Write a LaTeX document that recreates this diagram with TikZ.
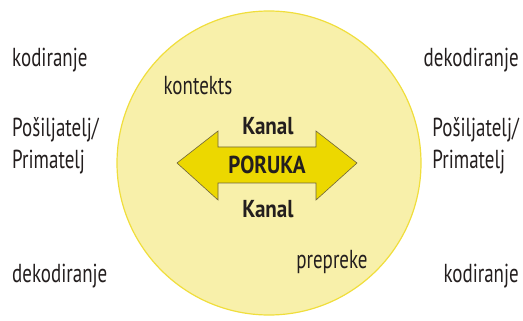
\documentclass[tikz,border=0pt]{standalone}
\usepackage{fontspec}
\setmainfont[FakeStretch=0.73,BoldFeatures={FakeStretch=0.86}]{PT Sans}
\definecolor{circfill}{RGB}{248,240,170}
\definecolor{circline}{RGB}{240,222,60}
\definecolor{arrfill}{RGB}{236,216,0}
\definecolor{arrline}{RGB}{110,100,60}
\definecolor{txt}{RGB}{35,30,30}
\begin{document}
\begin{tikzpicture}[x=1pt,y=-1pt,
  lbl/.style={inner sep=0pt,text=txt,font=\fontsize{26}{32}\selectfont},
  blbl/.style={inner sep=0pt,text=txt,font=\fontsize{24.5}{28}\selectfont\bfseries}]
\useasboundingbox (0,0) rectangle (523,321);
\node[circle,draw=circline,line width=1.2pt,fill=circfill,minimum size=304pt,inner sep=0pt] (c) at (269,163) {};
\draw[fill=arrfill,draw=arrline,line width=0.6pt]
  (177,163) -- (218,131) -- (218,147) -- (316,147) -- (316,131) -- (357,163)
  -- (316,200) -- (316,183) -- (218,183) -- (218,200) -- cycle;
\node[blbl] (msg) at (267,165) {PORUKA};
\node[blbl] (k1) at (268,126) {Kanal};
\node[blbl] (k2) at (268,209) {Kanal};
\node[lbl] (ctx) at (198,86) {kontekts};
\node[lbl] (obs) at (332,262) {prepreke};
\node[lbl,anchor=west] (lk) at (12,60) {kodiranje};
\node[lbl,anchor=west,align=left] (ls) at (12,146) {Pošiljatelj/\\Primatelj};
\node[lbl,anchor=west] (ld) at (12,276) {dekodiranje};
\node[lbl,anchor=east] (rd) at (519,60) {dekodiranje};
\node[lbl,anchor=east,align=left] (rs) at (519,146) {Pošiljatelj/\\Primatelj};
\node[lbl,anchor=east] (rk) at (519,276) {kodiranje};
\end{tikzpicture}
\end{document}
